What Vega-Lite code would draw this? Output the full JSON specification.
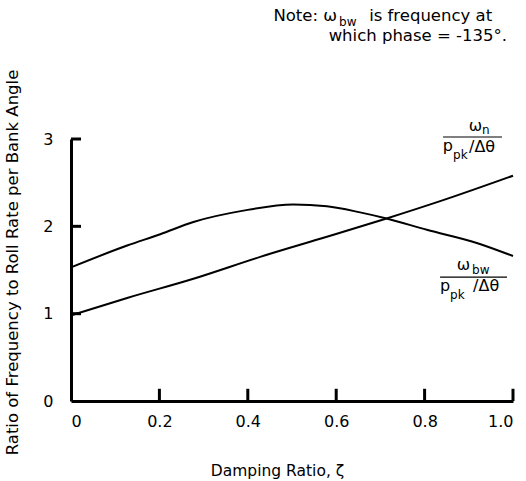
{
  "$schema": "https://vega.github.io/schema/vega-lite/v6.json",
  "width": 442,
  "height": 262,
  "autosize": {"type": "none"},
  "padding": {"left": 71, "top": 139, "right": 13, "bottom": 80},
  "background": "white",
  "config": {
    "view": {"stroke": null},
    "font": "DejaVu Sans",
    "axis": {
      "grid": false,
      "ticks": false,
      "domainColor": "black",
      "domainWidth": 3,
      "labelColor": "black",
      "labelFontSize": 16,
      "labelFont": "DejaVu Sans",
      "titleFont": "DejaVu Sans",
      "titleFontSize": 15.5,
      "titleFontWeight": "normal",
      "titleColor": "black"
    }
  },
  "layer": [
    {
      "data": {"values": [
        {"zeta": 0.0, "ratio": 1.53, "curve": "bw"},
        {"zeta": 0.127, "ratio": 1.78, "curve": "bw"},
        {"zeta": 0.202, "ratio": 1.91, "curve": "bw"},
        {"zeta": 0.277, "ratio": 2.05, "curve": "bw"},
        {"zeta": 0.39, "ratio": 2.18, "curve": "bw"},
        {"zeta": 0.503, "ratio": 2.25, "curve": "bw"},
        {"zeta": 0.579, "ratio": 2.23, "curve": "bw"},
        {"zeta": 0.654, "ratio": 2.16, "curve": "bw"},
        {"zeta": 0.714, "ratio": 2.09, "curve": "bw"},
        {"zeta": 0.805, "ratio": 1.96, "curve": "bw"},
        {"zeta": 0.918, "ratio": 1.81, "curve": "bw"},
        {"zeta": 1.0, "ratio": 1.66, "curve": "bw"},
        {"zeta": 0.0, "ratio": 0.98, "curve": "n"},
        {"zeta": 0.127, "ratio": 1.18, "curve": "n"},
        {"zeta": 0.277, "ratio": 1.40, "curve": "n"},
        {"zeta": 0.428, "ratio": 1.65, "curve": "n"},
        {"zeta": 0.579, "ratio": 1.88, "curve": "n"},
        {"zeta": 0.714, "ratio": 2.09, "curve": "n"},
        {"zeta": 0.842, "ratio": 2.30, "curve": "n"},
        {"zeta": 1.0, "ratio": 2.58, "curve": "n"}
      ]},
      "mark": {"type": "line", "color": "black", "strokeWidth": 2, "interpolate": "monotone"},
      "encoding": {
        "x": {
          "field": "zeta", "type": "quantitative",
          "scale": {"domain": [0, 1]},
          "axis": {
            "values": [0, 0.2, 0.4, 0.6, 0.8, 1.0],
            "labelPadding": 12,
            "labelExpr": "datum.value == 0 ? '0' : format(datum.value, '.1f')",
            "title": "Damping Ratio, ζ",
            "titleX": 206,
            "titleY": 69,
            "titleAlign": "center",
            "titleBaseline": "middle"
          }
        },
        "y": {
          "field": "ratio", "type": "quantitative",
          "scale": {"domain": [0, 3]},
          "axis": {
            "values": [0, 1, 2, 3],
            "format": "d",
            "labelPadding": 18,
            "title": "Ratio of Frequency to Roll Rate per Bank Angle",
            "titleFontSize": 16.5,
            "titleX": -59,
            "titleY": 123,
            "titleAngle": 270,
            "titleAlign": "center",
            "titleBaseline": "middle"
          }
        },
        "detail": {"field": "curve"}
      }
    },
    {
      "data": {"values": [
        {"zeta": 0.2, "ratio": 0, "ratio_top": 0.14},
        {"zeta": 0.4, "ratio": 0, "ratio_top": 0.14},
        {"zeta": 0.6, "ratio": 0, "ratio_top": 0.14},
        {"zeta": 0.8, "ratio": 0, "ratio_top": 0.14},
        {"zeta": 1.0, "ratio": 0, "ratio_top": 0.14}
      ]},
      "mark": {"type": "rule", "color": "black", "strokeWidth": 3},
      "encoding": {
        "x": {"field": "zeta", "type": "quantitative"},
        "y": {"field": "ratio", "type": "quantitative"},
        "y2": {"field": "ratio_top"}
      }
    },
    {
      "data": {"values": [
        {"ratio": 1, "zeta": 0, "zeta_end": 0.0226},
        {"ratio": 2, "zeta": 0, "zeta_end": 0.0226},
        {"ratio": 3, "zeta": 0, "zeta_end": 0.0226}
      ]},
      "mark": {"type": "rule", "color": "black", "strokeWidth": 3},
      "encoding": {
        "y": {"field": "ratio", "type": "quantitative"},
        "x": {"field": "zeta", "type": "quantitative"},
        "x2": {"field": "zeta_end"}
      }
    },
    {
      "data": {"values": [
        {"x": 0.8417, "x2": 0.9751, "y": 3.023},
        {"x": 0.835, "x2": 0.9864, "y": 1.419}
      ]},
      "mark": {"type": "rule", "color": "black", "strokeWidth": 1.2},
      "encoding": {
        "x": {"field": "x", "type": "quantitative"},
        "x2": {"field": "x2"},
        "y": {"field": "y", "type": "quantitative"}
      }
    },
    {
      "data": {"values": [
        {"x": 0.602, "y": 4.41, "t": "Note: ω"},
        {"x": 0.9864, "y": 4.175, "t": "which phase = -135°."}
      ]},
      "mark": {"type": "text", "align": "right", "baseline": "middle", "fontSize": 16.5, "color": "black"},
      "encoding": {
        "x": {"field": "x", "type": "quantitative"},
        "y": {"field": "y", "type": "quantitative"},
        "text": {"field": "t"}
      }
    },
    {
      "data": {"values": [
        {"x": 0.6745, "y": 4.41, "t": "is frequency at"}
      ]},
      "mark": {"type": "text", "align": "left", "baseline": "middle", "fontSize": 16.5, "color": "black"},
      "encoding": {
        "x": {"field": "x", "type": "quantitative"},
        "y": {"field": "y", "type": "quantitative"},
        "text": {"field": "t"}
      }
    },
    {
      "data": {"values": [
        {"x": 0.6066, "y": 4.345, "t": "bw"}
      ]},
      "mark": {"type": "text", "align": "left", "baseline": "middle", "fontSize": 12, "color": "black"},
      "encoding": {
        "x": {"field": "x", "type": "quantitative"},
        "y": {"field": "y", "type": "quantitative"},
        "text": {"field": "t"}
      }
    },
    {
      "data": {"values": [
        {"x": 0.930, "y": 3.149, "t": "ω"},
        {"x": 0.8643, "y": 2.92, "t": "p"},
        {"x": 0.9028, "y": 1.555, "t": "ω"},
        {"x": 0.8576, "y": 1.32, "t": "p"}
      ]},
      "mark": {"type": "text", "align": "right", "baseline": "middle", "fontSize": 16, "color": "black"},
      "encoding": {
        "x": {"field": "x", "type": "quantitative"},
        "y": {"field": "y", "type": "quantitative"},
        "text": {"field": "t"}
      }
    },
    {
      "data": {"values": [
        {"x": 0.9005, "y": 2.909, "t": "/Δθ"},
        {"x": 0.9096, "y": 1.32, "t": "/Δθ"}
      ]},
      "mark": {"type": "text", "align": "left", "baseline": "middle", "fontSize": 16, "color": "black"},
      "encoding": {
        "x": {"field": "x", "type": "quantitative"},
        "y": {"field": "y", "type": "quantitative"},
        "text": {"field": "t"}
      }
    },
    {
      "data": {"values": [
        {"x": 0.930, "y": 3.103, "t": "n"},
        {"x": 0.8643, "y": 2.817, "t": "pk"},
        {"x": 0.9074, "y": 1.5, "t": "bw"},
        {"x": 0.8576, "y": 1.217, "t": "pk"}
      ]},
      "mark": {"type": "text", "align": "left", "baseline": "middle", "fontSize": 12, "color": "black"},
      "encoding": {
        "x": {"field": "x", "type": "quantitative"},
        "y": {"field": "y", "type": "quantitative"},
        "text": {"field": "t"}
      }
    }
  ]
}
